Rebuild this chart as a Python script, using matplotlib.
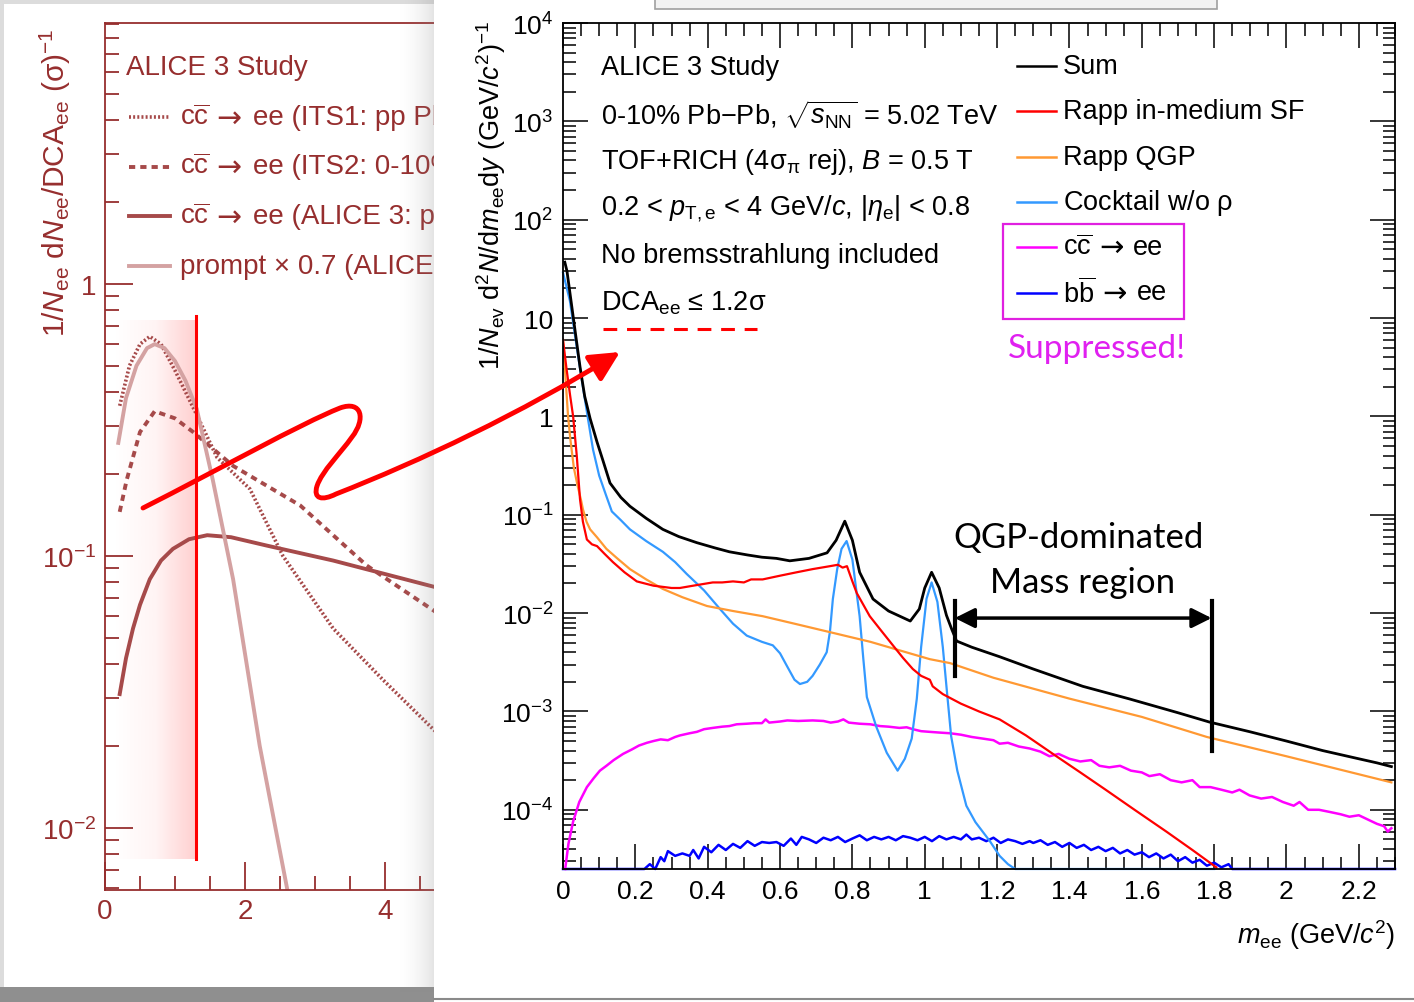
import numpy as np
import matplotlib
matplotlib.use("Agg")
import matplotlib.pyplot as plt
from matplotlib.patches import Rectangle, FancyArrowPatch
from matplotlib.lines import Line2D
from matplotlib.path import Path
from matplotlib.transforms import Bbox, TransformedBbox
from matplotlib.colors import LinearSegmentedColormap
from matplotlib.ticker import MultipleLocator, LogLocator, NullFormatter

plt.rcParams['font.family'] = ['Liberation Sans', 'DejaVu Sans']
plt.rcParams['mathtext.fontset'] = 'custom'
plt.rcParams['mathtext.rm'] = 'Liberation Sans'
plt.rcParams['mathtext.it'] = 'Liberation Sans:italic'
plt.rcParams['mathtext.bf'] = 'Liberation Sans:bold'
plt.rcParams['mathtext.sf'] = 'Liberation Sans'

# ---------------- main panel data (m_ee in GeV/c^2) ----------------
sum_x = [0.005, 0.011, 0.028, 0.047, 0.06, 0.075, 0.094, 0.11, 0.13, 0.16, 0.185, 0.23, 0.276, 0.32,
         0.37, 0.42, 0.46, 0.51, 0.55, 0.59, 0.627, 0.68, 0.73, 0.755, 0.779, 0.80, 0.82, 0.857,
         0.90, 0.96, 0.985, 1.0, 1.019, 1.04, 1.06, 1.075, 1.088, 1.13, 1.207, 1.30, 1.437, 1.566,
         1.70, 1.787, 1.90, 2.00, 2.10, 2.20, 2.25, 2.29]
sum_y = [37, 30, 10.4, 3.2, 1.6, 0.95, 0.55, 0.36, 0.21, 0.15, 0.122, 0.092, 0.071, 0.06,
         0.052, 0.046, 0.042, 0.039, 0.037, 0.036, 0.034, 0.036, 0.041, 0.055, 0.086, 0.055, 0.026, 0.0139,
         0.0105, 0.0083, 0.011, 0.018, 0.026, 0.018, 0.0095, 0.0068, 0.0052, 0.0045, 0.0036, 0.0027, 0.0018, 0.00134,
         0.00097, 0.00078, 0.00062, 0.0005, 0.0004, 0.00033, 0.0003, 0.000275]

cocktail_x = [0.0, 0.019, 0.039, 0.055, 0.07, 0.083, 0.10, 0.12, 0.135, 0.16, 0.185, 0.23, 0.276, 0.31,
              0.342, 0.39, 0.434, 0.47, 0.508, 0.55, 0.58, 0.60, 0.619, 0.64, 0.655, 0.675, 0.69, 0.71,
              0.729, 0.738, 0.746, 0.758, 0.77, 0.784, 0.80, 0.81, 0.82, 0.83, 0.84, 0.866, 0.895, 0.925,
              0.945, 0.964, 0.978, 0.99, 1.005, 1.019, 1.035, 1.05, 1.062, 1.073, 1.09, 1.115, 1.14, 1.16,
              1.18, 1.207, 1.23, 1.25, 1.80]
cocktail_y = [29, 15, 4.8, 2.0, 0.9, 0.46, 0.25, 0.154, 0.108, 0.088, 0.071, 0.054, 0.042, 0.033,
              0.025, 0.017, 0.011, 0.0078, 0.0059, 0.0051, 0.0047, 0.0039, 0.0029, 0.0021, 0.0019, 0.0020, 0.0023, 0.003,
              0.004, 0.0065, 0.0139, 0.028, 0.045, 0.054, 0.035, 0.018, 0.0093, 0.0035, 0.0014, 0.0007, 0.00038, 0.00025,
              0.00033, 0.00053, 0.00134, 0.0045, 0.014, 0.0205, 0.013, 0.0045, 0.0015, 0.00056, 0.00025, 0.00011, 7.5e-5, 6e-5,
              4.8e-5, 3.4e-5, 2.8e-5, 2.5e-5, 2.5e-5]

rapp_sf_x = [0.0, 0.01, 0.02, 0.028, 0.038, 0.047, 0.055, 0.066, 0.08, 0.094, 0.115, 0.138, 0.17, 0.204,
             0.25, 0.30, 0.323, 0.36, 0.414, 0.44, 0.47, 0.50, 0.52, 0.552, 0.60, 0.646, 0.69, 0.738,
             0.76, 0.773, 0.785, 0.80, 0.812, 0.848, 0.88, 0.912, 0.94, 0.967, 0.99, 1.014, 1.022, 1.05,
             1.10, 1.15, 1.207, 1.28, 1.364, 1.43, 1.50, 1.58, 1.668, 1.74, 1.806]
rapp_sf_y = [6.0, 3.0, 1.6, 1.0, 0.4, 0.144, 0.085, 0.056, 0.05, 0.048, 0.04, 0.033, 0.026, 0.021,
             0.019, 0.018, 0.018, 0.019, 0.0205, 0.0205, 0.021, 0.0205, 0.022, 0.022, 0.024, 0.026, 0.028, 0.030,
             0.031, 0.029, 0.030, 0.021, 0.016, 0.0093, 0.0066, 0.0047, 0.0035, 0.0027, 0.0023, 0.0021, 0.0018, 0.0015,
             0.0012, 0.001, 0.00083, 0.00057, 0.00035, 0.00024, 0.00016, 0.0001, 6e-5, 3.9e-5, 2.6e-5]

rapp_qgp_x = [0.0, 0.014, 0.02, 0.03, 0.04, 0.05, 0.055, 0.065, 0.075, 0.094, 0.12, 0.15, 0.185, 0.23,
              0.276, 0.33, 0.398, 0.47, 0.552, 0.64, 0.738, 0.85, 1.014, 1.07, 1.19, 1.40, 1.60, 1.78,
              2.00, 2.29]
rapp_qgp_y = [6.0, 1.0, 0.6, 0.3, 0.2, 0.14, 0.114, 0.085, 0.071, 0.059, 0.045, 0.036, 0.028, 0.022,
              0.0176, 0.0145, 0.0118, 0.0105, 0.0093, 0.0078, 0.0064, 0.0051, 0.0034, 0.0031, 0.0022, 0.00135, 0.00088, 0.00055,
              0.00035, 0.00019]

ccbar_x = [0.006, 0.015, 0.028, 0.045, 0.066, 0.085, 0.102, 0.12, 0.14, 0.166, 0.19, 0.21, 0.232, 0.25,
           0.27, 0.29, 0.31, 0.323, 0.35, 0.37, 0.39, 0.414, 0.44, 0.46, 0.48, 0.508, 0.53, 0.55,
           0.56, 0.57, 0.60, 0.62, 0.65, 0.69, 0.72, 0.74, 0.76, 0.775, 0.79, 0.82, 0.85, 0.876,
           0.90, 0.93, 0.95, 0.967, 0.99, 1.014, 1.04, 1.07, 1.10, 1.13, 1.16, 1.19, 1.207, 1.23,
           1.26, 1.29, 1.32, 1.345, 1.37, 1.40, 1.43, 1.46, 1.483, 1.51, 1.54, 1.57, 1.60, 1.621,
           1.65, 1.68, 1.71, 1.74, 1.76, 1.79, 1.82, 1.85, 1.87, 1.898, 1.93, 1.96, 1.99, 2.02,
           2.036, 2.06, 2.09, 2.12, 2.15, 2.174, 2.20, 2.23, 2.25, 2.27, 2.28, 2.29]
ccbar_y = [2.5e-5, 4.5e-5, 7.6e-5, 0.00012, 0.00017, 0.00021, 0.00025, 0.00028, 0.00032, 0.00037, 0.00041, 0.00045, 0.00048, 0.0005,
           0.00052, 0.00051, 0.00055, 0.00057, 0.0006, 0.00062, 0.00066, 0.00068, 0.0007, 0.00071, 0.00074, 0.00075, 0.00076, 0.00076,
           0.00083, 0.00077, 0.00079, 0.00081, 0.0008, 0.00081, 0.0008, 0.00077, 0.00079, 0.00083, 0.00077, 0.00075, 0.00074, 0.00071,
           0.0007, 0.00068, 0.00069, 0.00066, 0.00063, 0.00062, 0.00061, 0.0006, 0.00058, 0.00055, 0.00053, 0.00051, 0.00047, 0.00048,
           0.00044, 0.00042, 0.00039, 0.00035, 0.00037, 0.00033, 0.00031, 0.00032, 0.00028, 0.00027, 0.00028, 0.00025, 0.00024, 0.00022,
           0.00023, 0.0002, 0.00019, 0.0002, 0.00017, 0.00017, 0.00016, 0.00015, 0.00016, 0.00014, 0.00013, 0.000135, 0.00012, 0.00011,
           0.00012, 0.0001, 0.0001, 9.5e-5, 9e-5, 8.5e-5, 8.8e-5, 7.8e-5, 7.2e-5, 6.8e-5, 6e-5, 6.5e-5]

bbbar_x = [0.0, 0.218, 0.225, 0.24, 0.255, 0.27, 0.28, 0.29, 0.31, 0.33, 0.35, 0.36, 0.375, 0.39,
           0.41, 0.43, 0.45, 0.47, 0.49, 0.51, 0.53, 0.55, 0.57, 0.59, 0.61, 0.63, 0.645, 0.66,
           0.68, 0.70, 0.72, 0.74, 0.76, 0.78, 0.80, 0.82, 0.84, 0.86, 0.88, 0.90, 0.92, 0.94,
           0.96, 0.98, 1.00, 1.02, 1.04, 1.06, 1.08, 1.10, 1.115, 1.13, 1.15, 1.17, 1.19, 1.21,
           1.23, 1.25, 1.27, 1.29, 1.30, 1.32, 1.34, 1.36, 1.38, 1.40, 1.42, 1.44, 1.46, 1.48,
           1.50, 1.52, 1.54, 1.56, 1.58, 1.60, 1.62, 1.64, 1.66, 1.68, 1.70, 1.72, 1.74, 1.76,
           1.78, 1.80, 1.82, 1.84, 1.85, 2.30]
bbbar_y = [2.5e-5, 2.5e-5, 2.5e-5, 2.8e-5, 2.5e-5, 3.3e-5, 3.0e-5, 3.8e-5, 3.4e-5, 3.6e-5, 3.4e-5, 3.9e-5, 3.2e-5, 4.2e-5,
           3.7e-5, 4.4e-5, 3.9e-5, 4.5e-5, 4.1e-5, 4.8e-5, 4.3e-5, 4.7e-5, 4.6e-5, 4.7e-5, 4.3e-5, 5.1e-5, 4.4e-5, 5.3e-5,
           5.0e-5, 4.6e-5, 5.2e-5, 4.9e-5, 5.3e-5, 4.7e-5, 5.1e-5, 5.5e-5, 4.9e-5, 5.3e-5, 5.0e-5, 5.3e-5, 4.9e-5, 5.4e-5,
           5.2e-5, 4.9e-5, 5.3e-5, 4.8e-5, 5.4e-5, 5.0e-5, 5.3e-5, 5.0e-5, 5.6e-5, 5.0e-5, 5.2e-5, 4.8e-5, 5.2e-5, 4.6e-5,
           5.0e-5, 4.8e-5, 4.5e-5, 4.8e-5, 4.6e-5, 4.9e-5, 4.4e-5, 4.7e-5, 4.2e-5, 4.6e-5, 4.1e-5, 4.4e-5, 3.9e-5, 4.2e-5,
           3.8e-5, 4.1e-5, 3.6e-5, 3.9e-5, 3.5e-5, 3.7e-5, 3.3e-5, 3.6e-5, 3.2e-5, 3.5e-5, 3.0e-5, 3.3e-5, 2.9e-5, 3.1e-5,
           2.7e-5, 2.9e-5, 2.6e-5, 2.8e-5, 2.5e-5, 2.5e-5]

# legend entries: plain labels, and (quark pair, decay products) for the heavy-flavour ones
legend_labels = ['Sum', 'Rapp in-medium SF', 'Rapp QGP', r'Cocktail w/o $\mathrm{\rho}$',
                 (r'c$\overline{\mathrm{c}}$', 'ee'), (r'b$\overline{\mathrm{b}}$', 'ee')]
legend_colors = ['black', '#ff0000', '#ff9933', '#3399ff', '#ff00ff', '#0000ff']

x_ticks = [0, 0.2, 0.4, 0.6, 0.8, 1.0, 1.2, 1.4, 1.6, 1.8, 2.0, 2.2]
x_ticklabels = ['0', '0.2', '0.4', '0.6', '0.8', '1', '1.2', '1.4', '1.6', '1.8', '2', '2.2']
y_ticks = [1e-4, 1e-3, 1e-2, 1e-1, 1, 10, 1e2, 1e3, 1e4]
y_ticklabels = [r'$10^{-4}$', r'$10^{-3}$', r'$10^{-2}$', r'$10^{-1}$', '1', '10',
                r'$10^{2}$', r'$10^{3}$', r'$10^{4}$']

info_lines = ['ALICE 3 Study',
              r'0-10% Pb$-$Pb, $\sqrt{s_{\mathrm{NN}}}$ = 5.02 TeV',
              r'TOF+RICH (4$\mathrm{\sigma_{\pi}}$ rej), $B$ = 0.5 T',
              r'0.2 < $p_{\mathrm{T,e}}$ < 4 GeV/$c$, |$\eta_{\mathrm{e}}$| < 0.8',
              'No bremsstrahlung included',
              r'DCA$_{\mathrm{ee}}$ ≤ 1.2$\mathrm{\sigma}$']

# ---------------- left (background slide) panel data ----------------
its1_x = [0.21, 0.35, 0.5, 0.64, 0.8, 1.0, 1.31, 1.6, 2.07, 2.54, 3.26, 3.97, 4.69, 5.5]
its1_y = [0.356, 0.5, 0.6, 0.64, 0.6, 0.48, 0.33, 0.23, 0.176, 0.1, 0.054, 0.035, 0.023, 0.015]
its2_x = [0.21, 0.31, 0.5, 0.71, 1.0, 1.26, 1.83, 2.79, 3.74, 4.69, 5.5]
its2_y = [0.145, 0.19, 0.285, 0.34, 0.32, 0.285, 0.214, 0.153, 0.092, 0.063, 0.045]
alice3_x = [0.21, 0.3, 0.4, 0.5, 0.64, 0.8, 0.97, 1.2, 1.46, 1.8, 2.31, 3.26, 4.69, 5.5]
alice3_y = [0.031, 0.042, 0.054, 0.066, 0.082, 0.096, 0.106, 0.115, 0.119, 0.117, 0.109, 0.096, 0.077, 0.068]
prompt_x = [0.19, 0.3, 0.45, 0.6, 0.71, 0.85, 1.0, 1.15, 1.31, 1.54, 1.83, 2.21, 2.6]
prompt_y = [0.26, 0.38, 0.5, 0.58, 0.6, 0.58, 0.52, 0.44, 0.347, 0.19, 0.082, 0.02, 0.006]
left_labels = [(r'c$\overline{\mathrm{c}}$', 'ee (ITS1: pp Pb'),
               (r'c$\overline{\mathrm{c}}$', 'ee (ITS2: 0-10%'),
               (r'c$\overline{\mathrm{c}}$', 'ee (ALICE 3: pp'),
               'prompt × 0.7 (ALICE 3']

W, H = 1414, 1003
DARK = '#962e2e'
MID = '#a64a4a'
LIGHT = '#d4a2a2'


def fx(x):
    return x / W


def fy(y):
    return 1 - y / H


fig = plt.figure(figsize=(W / 100, H / 100), dpi=100)
fig.patch.set_facecolor('white')
left_clip = TransformedBbox(Bbox([[0, 0], [fx(434), 1]]), fig.transFigure)


def put(x, y, s, clip=False, **kw):
    t = fig.text(fx(x), fy(y), s, ha='left', va='center', **kw)
    if clip:
        t.set_clip_box(left_clip)
        t.set_clip_on(True)
    return t


def decay_label(x0, y, pair, rest, x_arrow, x_rest, size, clip=False, **kw):
    put(x0, y, pair, clip=clip, fontsize=size, **kw)
    put(x_arrow, y, '→', clip=clip, fontsize=size + 1.5, family=['DejaVu Sans'], **kw)
    put(x_rest, y, rest, clip=clip, fontsize=size, **kw)


# slide frame bits
fig.add_artist(Rectangle((0, fy(5)), fx(434), 1 - fy(5), transform=fig.transFigure,
                         facecolor='#dcdcdc', edgecolor='none', zorder=0.5))
fig.add_artist(Rectangle((0, 0), fx(4), 1, transform=fig.transFigure,
                         facecolor='#dcdcdc', edgecolor='none', zorder=0.5))
fig.add_artist(Rectangle((0, 0), fx(434), fy(988), transform=fig.transFigure,
                         facecolor='#8f8f8f', edgecolor='none', zorder=0.5))

# ---------------- left panel ----------------
axl = fig.add_axes([fx(105), fy(891), fx(700 - 105), fy(24) - fy(891)], zorder=1)
axl.set_facecolor('none')
axl.set_yscale('log')
axl.set_xlim(0, (700 - 105) / 70)
axl.set_ylim(0.0059, 9.1)

grad = np.linspace(0, 1, 256).reshape(1, -1)
pink = LinearSegmentedColormap.from_list('pk', ['#ffffff', '#fff4f4', '#ffcfcf'])
axl.imshow(grad, cmap=pink, extent=[0.14, 1.3, 0.0077, 0.743], aspect='auto', zorder=0.5,
           interpolation='bilinear')
axl.plot([1.3, 1.3], [0.0077, 0.76], color='#ff0000', lw=2.2, zorder=3)

dot_style = dict(color=MID, lw=2.6, ls=(0, (0.55, 0.6)))
dash_style = dict(color=MID, lw=2.8, ls=(0, (1.6, 1.3)))
axl.plot(its1_x, its1_y, zorder=2, **dot_style)
axl.plot(its2_x, its2_y, zorder=2, **dash_style)
axl.plot(alice3_x, alice3_y, color=MID, lw=2.8, zorder=2)
axl.plot(prompt_x, prompt_y, color=LIGHT, lw=2.8, zorder=2)

for sp in axl.spines.values():
    sp.set_color(DARK)
    sp.set_linewidth(1.3)
axl.tick_params(which='both', direction='in', colors=DARK, top=False, right=False, labelsize=20)
axl.tick_params(which='major', length=20, width=1.3, pad=6)
axl.tick_params(which='minor', length=10, width=1.3)
axl.set_xticks([0, 2, 4, 6, 8], ['0', '2', '4', '6', '8'])
axl.xaxis.set_minor_locator(MultipleLocator(0.5))
axl.set_yticks([0.01, 0.1, 1], [r'$10^{-2}$', r'$10^{-1}$', '1'])
axl.yaxis.set_minor_locator(LogLocator(base=10, subs=np.arange(2, 10)))
axl.yaxis.set_minor_formatter(NullFormatter())
for lab in axl.get_xticklabels() + axl.get_yticklabels():
    lab.set_color(DARK)

fig.text(fx(55), fy(183), r'$1/N_{\mathrm{ee}}$ d$N_{\mathrm{ee}}$/DCA$_{\mathrm{ee}}$ ($\mathrm{\sigma}$)$^{-1}$',
         rotation=90, ha='center', va='center', fontsize=21.5, color=DARK, zorder=1.2)
put(126, 68, 'ALICE 3 Study', fontsize=20, color=DARK, zorder=1.2)
left_styles = [dot_style, dash_style, dict(color=MID, lw=2.8), dict(color=LIGHT, lw=2.8)]
for i, (lab, st) in enumerate(zip(left_labels, left_styles)):
    yy = 118 + i * 49.5
    fig.add_artist(Line2D([fx(129), fx(170)], [fy(yy), fy(yy)], transform=fig.transFigure, zorder=1.2, **st))
    if isinstance(lab, tuple):
        decay_label(180, yy, lab[0], lab[1], 216, 253, 20, clip=True, color=DARK, zorder=1.2)
    else:
        put(180, yy, lab, clip=True, fontsize=20, color=DARK, zorder=1.2)

# shadow of the front slide
shade = np.zeros((1, 64, 4))
shade[..., :3] = 0.55
shade[0, :, 3] = np.linspace(0, 0.28, 64) ** 2 * 3
axs = fig.add_axes([fx(395), 0.01, fx(39), 0.99], zorder=1.5)
axs.imshow(shade, aspect='auto', extent=[0, 1, 0, 1])
axs.axis('off')

# front slide
fig.add_artist(Rectangle((fx(434), 0), 1 - fx(434), 1, transform=fig.transFigure,
                         facecolor='white', edgecolor='none', zorder=2))
fig.add_artist(Line2D([fx(434), 1], [fy(1000), fy(1000)], transform=fig.transFigure,
                      color='#8a8a8a', lw=1.5, zorder=2.1))
fig.add_artist(Rectangle((fx(655), fy(10)), fx(1217 - 655), fy(-5) - fy(10), transform=fig.transFigure,
                         facecolor='#f2f2f2', edgecolor='#a0a0a0', lw=1.2, zorder=2.1))

# ---------------- main panel ----------------
ax = fig.add_axes([fx(563), fy(870), fx(1395 - 563), fy(24) - fy(870)], zorder=3)
ax.set_yscale('log')
ax.set_xlim(0, 2.3)
ax.set_ylim(2.5e-5, 1e4)

ax.plot(bbbar_x, bbbar_y, color=legend_colors[5], lw=1.8, clip_on=False)
ax.plot(ccbar_x, ccbar_y, color=legend_colors[4], lw=1.8, clip_on=False)
ax.plot(cocktail_x, cocktail_y, color=legend_colors[3], lw=1.6, clip_on=False)
ax.plot(rapp_qgp_x, rapp_qgp_y, color=legend_colors[2], lw=1.6)
ax.plot(rapp_sf_x, rapp_sf_y, color=legend_colors[1], lw=1.6)
ax.plot(sum_x, sum_y, color=legend_colors[0], lw=2.0)

# QGP-dominated mass region marker
ax.plot([1.083, 1.083], [0.0023, 0.0132], color='black', lw=3)
ax.plot([1.793, 1.793], [0.0004, 0.0132], color='black', lw=3)
ax.annotate('', xy=(1.083, 0.0089), xytext=(1.793, 0.0089),
            arrowprops=dict(arrowstyle='<|-|>,head_length=1.0,head_width=0.5', lw=2.5,
                            color='black', mutation_scale=12, shrinkA=0, shrinkB=0))

for sp in ax.spines.values():
    sp.set_linewidth(1.3)
ax.tick_params(which='both', direction='in', top=True, right=True, labelsize=19)
ax.tick_params(which='major', length=18, width=1.1, pad=7)
ax.tick_params(which='minor', length=9, width=1.1)
ax.set_xticks(x_ticks, x_ticklabels)
ax.xaxis.set_minor_locator(MultipleLocator(0.05))
ax.set_yticks(y_ticks, y_ticklabels)
ax.yaxis.set_minor_locator(LogLocator(base=10, subs=np.arange(2, 10), numticks=20))
ax.yaxis.set_minor_formatter(NullFormatter())

fig.text(fx(491), fy(195),
         r'$1/N_{\mathrm{ev}}$ d$^{2}N$/d$m_{\mathrm{ee}}$d$y$ (GeV/$c^{2}$)$^{-1}$',
         rotation=90, ha='center', va='center', fontsize=19.5, zorder=4)
fig.text(fx(1395), fy(935), r'$m_{\mathrm{ee}}$ (GeV/$c^{2}$)', ha='right', va='center',
         fontsize=19.5, zorder=4)

for i, line in enumerate(info_lines):
    put(601, 68 + i * 47, line, fontsize=19.5, zorder=4)
fig.add_artist(Line2D([fx(603), fx(757)], [fy(330), fy(330)], transform=fig.transFigure,
                      color='#ff0000', lw=2.2, ls=(0, (4.5, 3.2)), zorder=4))

arrow_x = [1099, 1102]
rest_x = [1133, 1137]
for i, (lab, col) in enumerate(zip(legend_labels, legend_colors)):
    yy = 67 + i * 45.3
    fig.add_artist(Line2D([fx(1017), fx(1056)], [fy(yy), fy(yy)], transform=fig.transFigure,
                          color=col, lw=1.8, zorder=4))
    if isinstance(lab, tuple):
        k = i - 4
        decay_label(1063, yy, lab[0], lab[1], arrow_x[k], rest_x[k], 19.5, zorder=4)
    else:
        put(1063, yy, lab, fontsize=19.5, zorder=4)
fig.add_artist(Rectangle((fx(1003), fy(320)), fx(1184 - 1003), fy(225) - fy(320), transform=fig.transFigure,
                         facecolor='none', edgecolor='#e020e0', lw=1.6, zorder=4))
fig.text(fx(1097), fy(349), 'Suppressed!', ha='center', va='center', fontsize=24,
         family=['Lato', 'DejaVu Sans'], color='#e020f0', zorder=4)
fig.text(fx(1079), fy(538), 'QGP-dominated', ha='center', va='center', fontsize=25,
         family=['Lato', 'DejaVu Sans'], zorder=4)
fig.text(fx(1083), fy(583), 'Mass region', ha='center', va='center', fontsize=25,
         family=['Lato', 'DejaVu Sans'], zorder=4)

# hand-drawn red arrow linking the two slides
pts = [(143, 509), (220, 470), (300, 425), (340, 409),
       (362, 401), (366, 420), (352, 438),
       (340, 455), (322, 472), (317, 487),
       (313, 500), (322, 502), (336, 495),
       (420, 462), (520, 415), (620, 353)]
codes = [Path.MOVETO] + [Path.CURVE4] * 15
verts = [(fx(x), fy(y)) for x, y in pts]
arrow = FancyArrowPatch(path=Path(verts, codes), arrowstyle='-|>,head_length=18,head_width=9',
                        mutation_scale=1, lw=3.5, color='#ff0000', transform=fig.transFigure, zorder=6)
fig.add_artist(arrow)

fig.savefig('out.png', dpi=100)
